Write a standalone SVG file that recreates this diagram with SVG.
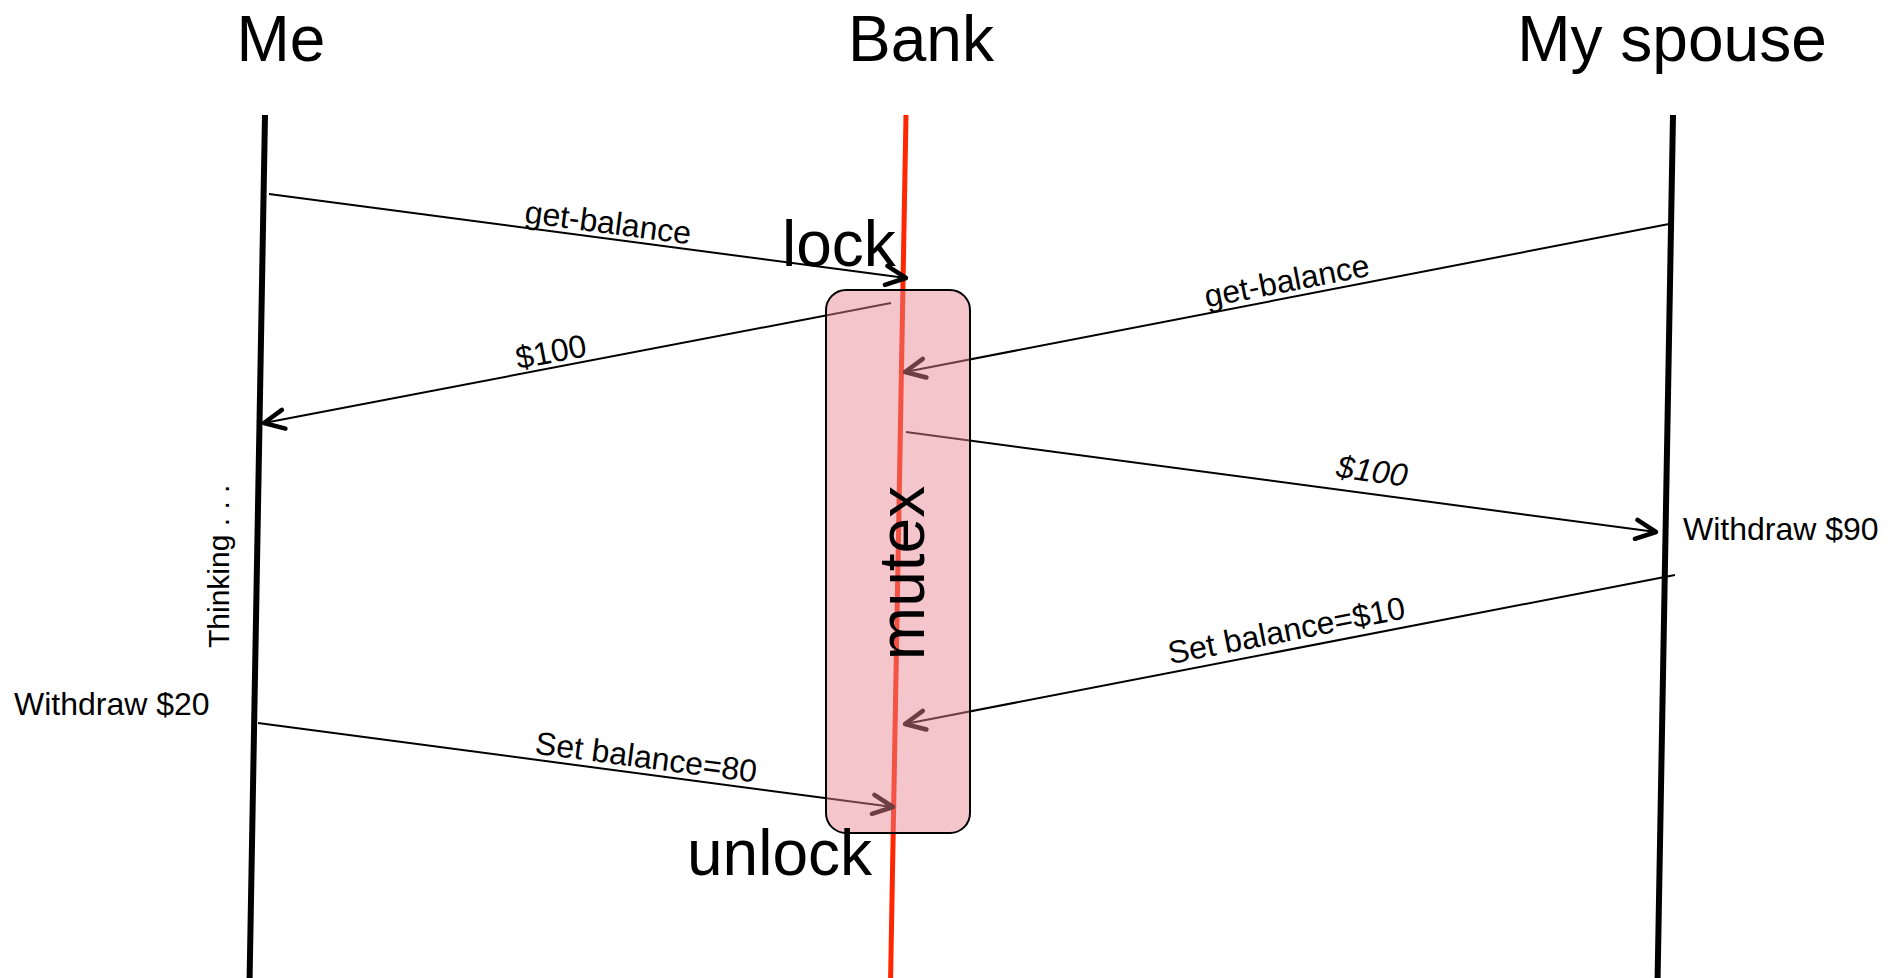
<svg xmlns="http://www.w3.org/2000/svg" width="1900" height="978" viewBox="0 0 1900 978">
  <style>
    .title { font-family: "Liberation Sans", Arial, sans-serif; font-size: 64px; fill: #000; }
    .big { font-family: "Liberation Sans", Arial, sans-serif; font-size: 64px; fill: #000; }
    .lbl { font-family: "Liberation Sans", Arial, sans-serif; font-size: 32px; fill: #000; text-anchor: middle; }
    .note { font-family: "Liberation Sans", Arial, sans-serif; font-size: 32px; fill: #000; }
    .think { font-family: "Liberation Sans", Arial, sans-serif; font-size: 30px; fill: #000; }
    .life { stroke: #000; stroke-width: 6; fill: none; }
    .bankline { stroke: #ff2600; stroke-width: 5; fill: none; }
    .msg { stroke: #000; stroke-width: 2; fill: none; marker-end: url(#chevron); }
  </style>
  <defs>
    <marker id="chevron" markerUnits="userSpaceOnUse" markerWidth="30" markerHeight="30" viewBox="-24 -15 30 30" refX="0" refY="0" orient="auto">
      <path d="M -20 -9.5 L 0 0 L -20 9.5" fill="none" stroke="#000" stroke-width="4.5" stroke-linecap="round" stroke-linejoin="round"/>
    </marker>
  </defs>
  <rect width="1900" height="978" fill="#fff"/>

  <!-- participants -->
  <g id="me">
    <text class="title" x="281" y="61" text-anchor="middle">Me</text>
    <line class="life" x1="265" y1="115" x2="249.6" y2="978"/>
  </g>
  <g id="bank">
    <text class="title" x="921" y="61" text-anchor="middle">Bank</text>
    <line class="bankline" x1="906" y1="115" x2="890.6" y2="978"/>
  </g>
  <g id="spouse">
    <text class="title" x="1672" y="61" text-anchor="middle">My spouse</text>
    <line class="life" x1="1673" y1="115" x2="1657.6" y2="978"/>
  </g>

  <!-- messages -->
  <g id="connectors">
    <line class="msg" x1="269" y1="194" x2="906" y2="278"/>
    <line class="msg" x1="891" y1="303" x2="264" y2="423"/>
    <line class="msg" x1="1669" y1="224" x2="905" y2="372"/>
    <line class="msg" x1="906" y1="432" x2="1656" y2="532"/>
    <line class="msg" x1="1675" y1="575" x2="905" y2="724"/>
    <line class="msg" x1="258" y1="723" x2="893" y2="807"/>
  </g>

  <!-- critical section held by the bank -->
  <g id="mutex">
    <rect x="826" y="290" width="144" height="543" rx="20" ry="20" fill="#e8848f" fill-opacity="0.47" stroke="#000" stroke-width="2"/>
    <text class="big" transform="translate(924 573) rotate(-90)" text-anchor="middle">mutex</text>
  </g>

  <g id="lock-labels">
    <text class="big" x="782" y="266">lock</text>
    <text class="big" x="687" y="875">unlock</text>
  </g>

  <!-- message labels -->
  <g id="labels">
    <text class="lbl" transform="translate(606 238.4) rotate(7.51)" y="-5">get-balance</text>
    <text class="lbl" transform="translate(554 367.5) rotate(-10.83)" y="-5">$100</text>
    <text class="lbl" transform="translate(1290 297.4) rotate(-10.96)" y="-6">get-balance</text>
    <text class="lbl" transform="translate(1369 493.7) rotate(7.59)" y="-12" font-style="italic">$100</text>
    <text class="lbl" transform="translate(1290 649) rotate(-11)" y="-8">Set balance=$10</text>
    <text class="lbl" transform="translate(644 774) rotate(7.54)" y="-6">Set balance=80</text>
  </g>

  <!-- notes -->
  <g id="notes">
    <text class="note" x="1683" y="540">Withdraw $90</text>
    <text class="note" x="14" y="715">Withdraw $20</text>
    <text class="think" transform="translate(229 648) rotate(-90)">Thinking . . .</text>
  </g>
</svg>
